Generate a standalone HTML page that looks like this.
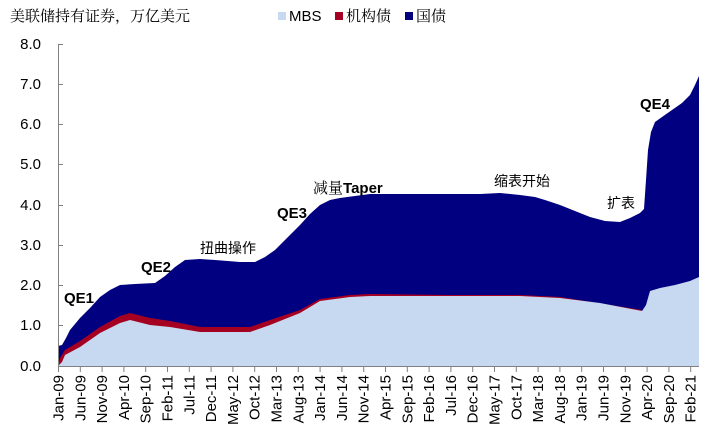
<!DOCTYPE html>
<html><head><meta charset="utf-8"><style>
body{margin:0;background:#fff;width:721px;height:447px;overflow:hidden}
svg{display:block}
text{font-family:"Liberation Sans","Noto Sans CJK SC",sans-serif;fill:#000}
.cn{font-family:"Noto Serif CJK SC","Liberation Serif",serif}
</style></head><body>
<svg width="721" height="447" viewBox="0 0 721 447">
<!-- treasury (total) -->
<polygon fill="#000080" points="58,366 58,346 62,345 66,338 70,330 80,318 90,308 100,297 110,290 120,285 135,284 155,283 165,276 175,267 185,260 200,259 215,260 240,262 255,262 265,257 275,250 285,240 300,225 310,214 320,205 330,200 340,198 355,196 370,194 400,194 440,194 480,194 500,193 520,195 535,197 545,200 560,205 575,211 590,217 605,221 620,222 630,218 640,213 644,209 646,180 648,150 651,132 655,122 662,117 672,110 682,103 690,95 695,85 699,76 699,366"/>
<!-- agency -->
<polygon fill="#a50021" points="58,366 60,358 65,350 80,341 100,327 120,316 130,313 150,318 170,321 200,327 250,327 270,320 300,310 320,299 350,295 370,294 450,295 520,295 560,297 642,310 642,366"/>
<!-- MBS -->
<polygon fill="#c6d9f0" points="58,366 62,362 65,355 80,347 100,333 120,323 130,320 150,325 170,327 200,332 250,332 270,325 300,313 320,301 350,297 370,296 450,296 520,296 560,298 600,303 642,311 646,305 650,291 660,288 675,285 690,281 699,277 699,366"/>
<!-- axes -->
<g stroke="#808080" stroke-width="1" fill="none">
<line x1="58.5" y1="44" x2="58.5" y2="366"/>
<line x1="58" y1="366.5" x2="699" y2="366.5"/>
<line x1="58" y1="44.5" x2="63" y2="44.5"/><line x1="58" y1="84.5" x2="63" y2="84.5"/><line x1="58" y1="124.5" x2="63" y2="124.5"/><line x1="58" y1="164.5" x2="63" y2="164.5"/><line x1="58" y1="205.5" x2="63" y2="205.5"/><line x1="58" y1="245.5" x2="63" y2="245.5"/><line x1="58" y1="285.5" x2="63" y2="285.5"/><line x1="58" y1="325.5" x2="63" y2="325.5"/>
</g>
<g id="xt" stroke="#808080"></g>
<g font-size="15" text-anchor="end">
<text x="41" y="49">8.0</text><text x="41" y="89">7.0</text><text x="41" y="129">6.0</text><text x="41" y="169">5.0</text><text x="41" y="210">4.0</text><text x="41" y="250">3.0</text><text x="41" y="290">2.0</text><text x="41" y="330">1.0</text><text x="41" y="371">0.0</text>
</g>
<g id="xl" font-size="15" text-anchor="end"></g>
<text x="10" y="21" font-size="15" class="cn">美联储持有证券，万亿美元</text>
<rect x="278" y="12" width="8" height="8" fill="#c6d9f0"/><text x="289" y="21" font-size="15">MBS</text>
<rect x="335" y="12" width="8" height="8" fill="#a50021"/><text x="346" y="21" font-size="15" class="cn">机构债</text>
<rect x="405" y="12" width="8" height="8" fill="#000080"/><text x="416" y="21" font-size="15" class="cn">国债</text>
<g font-size="15" font-weight="bold">
<text x="64" y="303">QE1</text><text x="141" y="272">QE2</text><text x="277" y="218">QE3</text>
<text x="313" y="193"><tspan class="cn" font-weight="normal">减量</tspan>Taper</text>
<text x="640" y="109">QE4</text>
</g>
<g font-size="14" class="cn">
<text x="200" y="253">扭曲操作</text><text x="494" y="186">缩表开始</text><text x="607" y="208">扩表</text>
</g>
</svg>
<script>
var L=["Jan-09","Jun-09","Nov-09","Apr-10","Sep-10","Feb-11","Jul-11","Dec-11","May-12","Oct-12","Mar-13","Aug-13","Jan-14","Jun-14","Nov-14","Apr-15","Sep-15","Feb-16","Jul-16","Dec-16","May-17","Oct-17","Mar-18","Aug-18","Jan-19","Jun-19","Nov-19","Apr-20","Sep-20","Feb-21"];
var ns="http://www.w3.org/2000/svg",xt=document.getElementById("xt"),xl=document.getElementById("xl");
for(var i=0;i<L.length;i++){var x=58.5+i*21.8;
var l=document.createElementNS(ns,"line");l.setAttribute("x1",x);l.setAttribute("x2",x);l.setAttribute("y1",366);l.setAttribute("y2",372);xt.appendChild(l);
var t=document.createElementNS(ns,"text");t.setAttribute("transform","translate("+(x+5)+",375) rotate(-90)");t.textContent=L[i];xl.appendChild(t);}
</script>
</body></html>
